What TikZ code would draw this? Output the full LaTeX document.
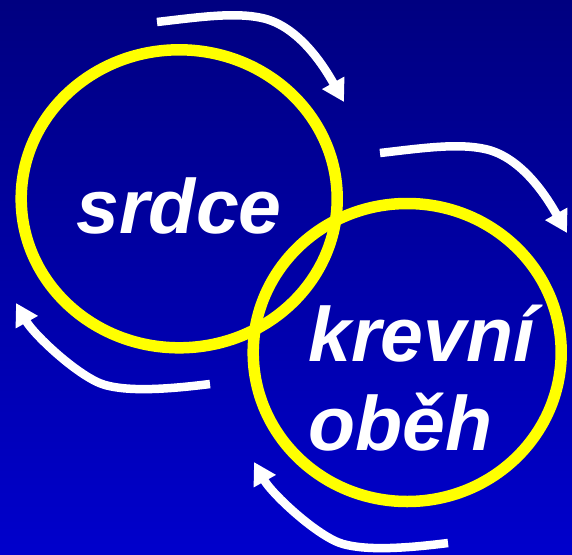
\documentclass[tikz,border=0pt]{standalone}
\usepackage{fontspec}
\setmainfont{Liberation Sans}
\usetikzlibrary{arrows.meta,shapes.geometric}
\definecolor{bgtop}{RGB}{0,0,128}
\definecolor{bgbottom}{RGB}{0,0,204}
\definecolor{ringyellow}{RGB}{255,255,0}
\begin{document}
\begin{tikzpicture}[x=1pt,y=-1pt,
  ring/.style={draw=ringyellow, line width=11.5pt, ellipse, inner sep=0pt},
  flow/.style={draw=white, line width=8.5pt, -{Triangle[length=22pt,width=24pt]}},
  word/.style={text=white, inner sep=0pt, font=\fontsize{77}{88.3}\selectfont\bfseries\itshape},
  arrowtop/.pic={\draw[flow] (0,0) .. controls (43,-5) and (78,-10) .. (105,-4)
                   .. controls (143,4) and (169,48) .. (187,80);},
  arrowbottom/.pic={\draw[flow] (0,0) .. controls (-40,5) and (-80,8) .. (-105,1)
                   .. controls (-130,-6) and (-176,-49) .. (-194,-81);}]
\useasboundingbox (0,0) rectangle (572,554);
\fill[top color=bgtop, bottom color=bgbottom] (0,0) rectangle (572,554);
\node[ring, minimum width=316pt, minimum height=298pt] (heart) at (179.2,198.8) {};
\node[ring, minimum width=308pt, minimum height=298pt] (flowring) at (407.2,352.5) {};
\node[word, anchor=base west] (srdce) at (76,233) {srdce};
\node[word, anchor=base west] (krevni) at (308,361.7) {krevní};
\node[word, anchor=base west] (obeh) at (308,450) {oběh};
\pic at (157,22) {arrowtop};
\pic at (380,153) {arrowtop};
\pic at (210,384) {arrowbottom};
\pic at (448,543) {arrowbottom};
\end{tikzpicture}
\end{document}
